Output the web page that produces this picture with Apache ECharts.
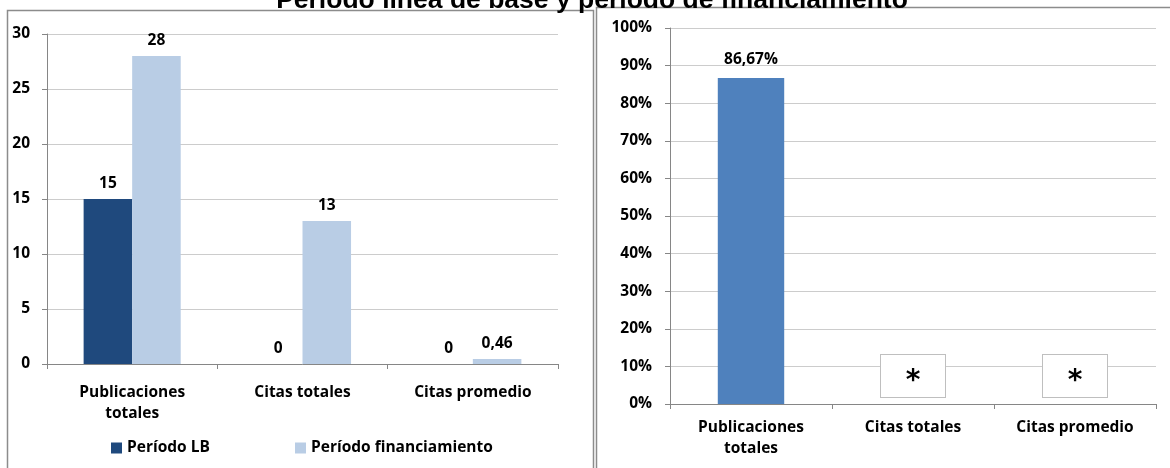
<!DOCTYPE html>
<html>
<head>
<meta charset="utf-8">
<script src="https://cdn.jsdelivr.net/npm/echarts@6/dist/echarts.min.js"></script>
<style>
  html, body { margin: 0; padding: 0; background: #fff; }
  #chart { width: 1170px; height: 468px; }
</style>
</head>
<body>
<div id="chart"></div>
<script>
// Indicadores bibliométricos: período línea de base vs. período de financiamiento
const categories = ['Publicaciones\ntotales', 'Citas totales', 'Citas promedio'];
const seriesNames = ['Período LB', 'Período financiamiento'];
const lbValues = [15, 0, 0];
const finValues = [28, 13, 0.46];
// Variación porcentual; null = no calculable (se marca con *)
const pctValues = [86.67, null, null];
const leftTicks = { min: 0, max: 30, interval: 5 };
const rightTicks = { min: 0, max: 100, interval: 10 };
const titleText = 'Período línea de base y período de financiamiento';

const FONT = '"Open Sans", "Noto Sans", sans-serif';
const FS = 15.5;
const AXIS_COLOR = '#868686';
const GRID_COLOR = '#cccccc';
const fmtNum = v => String(v).replace('.', ',');

const labelStyle = {
  show: true, position: 'top', distance: 7,
  fontFamily: FONT, fontWeight: 'bold', fontSize: FS, color: '#000'
};

function catAxis(gridIndex, margin) {
  return {
    type: 'category', gridIndex, data: categories,
    axisLine: { lineStyle: { color: AXIS_COLOR } },
    axisTick: { show: true, length: 5, lineStyle: { color: AXIS_COLOR } },
    axisLabel: {
      fontFamily: FONT, fontWeight: 'bold', fontSize: FS, color: '#000',
      lineHeight: 21, margin, interval: 0
    }
  };
}
function valAxis(gridIndex, ticks, fmt, margin) {
  return {
    type: 'value', gridIndex, min: ticks.min, max: ticks.max, interval: ticks.interval,
    axisLine: { show: true, lineStyle: { color: AXIS_COLOR } },
    axisTick: { show: true, length: 5, lineStyle: { color: AXIS_COLOR } },
    splitLine: { lineStyle: { color: GRID_COLOR, width: 1 } },
    axisLabel: {
      fontFamily: FONT, fontWeight: 'bold', fontSize: FS, color: '#000',
      margin, formatter: fmt
    }
  };
}

const pctData = pctValues.map(v => v === null ? {
  value: 0,
  label: {
    show: true, position: 'top', distance: 7, formatter: '*',
    fontFamily: 'DejaVu Sans', fontWeight: 'bold', fontSize: 28, color: '#000',
    backgroundColor: '#fff', borderColor: '#bfbfbf', borderWidth: 1,
    width: 64, height: 30, lineHeight: 30, padding: [12, 0, 0, 0], align: 'center'
  }
} : v);

const legendText = { fontFamily: FONT, fontWeight: 'bold', fontSize: FS, color: '#000' };

const chart = echarts.init(document.getElementById('chart'), null, { renderer: 'canvas' });
chart.setOption({
  animation: false,
  backgroundColor: '#fff',
  graphic: [
    { type: 'rect', shape: { x: 7.5, y: 10.5, width: 586, height: 470 },
      style: { fill: 'none', stroke: '#8c8c8c', lineWidth: 1.5 }, z: 0 },
    { type: 'rect', shape: { x: 596.5, y: 7.5, width: 590, height: 470 },
      style: { fill: 'none', stroke: '#8c8c8c', lineWidth: 1.5 }, z: 0 },
    { type: 'text', x: 592, y: -13, z: 10,
      style: { text: titleText, align: 'center', verticalAlign: 'top',
               font: 'bold 26.5px "Liberation Sans", Arial, sans-serif', fill: '#000' } }
  ],
  legend: [
    { data: [seriesNames[0]], left: 111, top: 440, padding: 0, itemWidth: 11, itemHeight: 11,
      icon: 'rect', textStyle: legendText },
    { data: [seriesNames[1]], left: 295, top: 440, padding: 0, itemWidth: 11, itemHeight: 11,
      icon: 'rect', textStyle: legendText }
  ],
  grid: [
    { left: 47, top: 34, width: 511, height: 330 },
    { left: 670, top: 28, width: 486, height: 376 }
  ],
  xAxis: [catAxis(0, 18), catAxis(1, 13)],
  yAxis: [valAxis(0, leftTicks, '{value}', 17), valAxis(1, rightTicks, '{value}%', 18)],
  series: [
    { name: seriesNames[0], type: 'bar', xAxisIndex: 0, yAxisIndex: 0, data: lbValues,
      itemStyle: { color: '#1F497D' }, barGap: '0%', barCategoryGap: '43%',
      label: Object.assign({}, labelStyle, { formatter: p => fmtNum(p.value) }) },
    { name: seriesNames[1], type: 'bar', xAxisIndex: 0, yAxisIndex: 0, data: finValues,
      itemStyle: { color: '#B9CDE5' }, barGap: '0%', barCategoryGap: '43%',
      label: Object.assign({}, labelStyle, { formatter: p => fmtNum(p.value) }) },
    { name: 'Variación', type: 'bar', xAxisIndex: 1, yAxisIndex: 1, data: pctData,
      itemStyle: { color: '#4F81BD' }, barCategoryGap: '59%',
      label: Object.assign({}, labelStyle, { distance: 11, formatter: p => fmtNum(p.value.toFixed(2)) + '%' }) }
  ]
});
</script>
</body>
</html>
